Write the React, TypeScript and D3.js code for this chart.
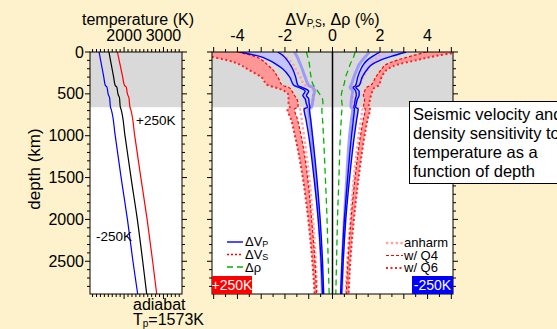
import React from 'react';
import * as d3 from 'd3';

// depth sampling for all right-panel curves (km)
const depthKm = [0, 50, 100, 150, 200, 300, 400, 420, 470, 520, 560, 620, 660, 680, 800, 1000, 1500, 2000, 2500, 2891];

// +250K (hot) sensitivities, %
const vsQ6Hot = [-5.8, -5.2, -4.4, -3.9, -3.6, -3.0, -2.7, -2.45, -2.0, -1.85, -1.85, -1.85, -1.8, -1.9, -1.75, -1.58, -1.25, -1.02, -0.85, -0.75];
const vsQ4Hot = [-4.0, -3.3, -2.95, -2.75, -2.55, -2.3, -2.1, -1.85, -1.7, -1.6, -1.5, -1.45, -1.45, -1.6, -1.48, -1.32, -1.05, -0.88, -0.74, -0.67];
const vsAnHot = [-2.3, -2.0, -1.8, -1.65, -1.55, -1.35, -1.15, -0.9, -0.82, -0.78, -0.8, -0.85, -0.9, -1.35, -1.3, -1.2, -0.98, -0.82, -0.7, -0.64];
const vpQ6Hot = [-3.9, -3.1, -2.65, -2.35, -2.1, -1.8, -1.62, -1.45, -1.15, -1.25, -1.15, -1.1, -1.05, -1.2, -1.12, -1.0, -0.78, -0.6, -0.48, -0.42];
const vpQ4Hot = [-2.3, -2.05, -1.9, -1.78, -1.68, -1.55, -1.45, -1.3, -1.0, -1.1, -1.0, -0.98, -0.95, -0.97, -0.92, -0.84, -0.66, -0.52, -0.42, -0.37];
const vpAnHot = [-1.6, -1.5, -1.42, -1.35, -1.28, -1.15, -1.0, -0.85, -0.75, -0.8, -0.82, -0.85, -0.88, -1.0, -0.95, -0.88, -0.72, -0.57, -0.47, -0.43];
const rhoHot = [-1.1, -1.05, -1.0, -0.97, -0.95, -0.9, -0.8, -0.72, -0.62, -0.5, -0.42, -0.4, -0.4, -0.45, -0.42, -0.38, -0.3, -0.23, -0.18, -0.14];

// -250K (cold) sensitivities, %
const vsQ6Cold = [5.4, 4.3, 3.5, 2.75, 2.35, 2.07, 1.95, 1.78, 1.68, 1.62, 1.58, 1.55, 1.5, 1.58, 1.48, 1.35, 1.1, 0.9, 0.75, 0.68];
const vsQ4Cold = [3.95, 3.3, 2.7, 2.25, 2.08, 1.82, 1.6, 1.45, 1.35, 1.3, 1.35, 1.32, 1.3, 1.38, 1.3, 1.18, 0.95, 0.78, 0.65, 0.58];
const vsAnCold = [2.2, 1.95, 1.75, 1.6, 1.5, 1.3, 1.1, 0.88, 0.85, 0.85, 0.85, 0.88, 0.9, 1.25, 1.2, 1.1, 0.9, 0.75, 0.62, 0.56];
const vpQ6Cold = [3.1, 2.5, 2.0, 1.65, 1.48, 1.25, 1.12, 0.98, 1.12, 1.12, 1.05, 1.0, 0.97, 1.08, 1.02, 0.92, 0.72, 0.56, 0.45, 0.38];
const vpQ4Cold = [2.0, 1.7, 1.45, 1.3, 1.2, 1.06, 0.97, 0.87, 0.98, 1.0, 0.96, 0.93, 0.9, 0.92, 0.88, 0.8, 0.64, 0.5, 0.4, 0.34];
const vpAnCold = [1.55, 1.4, 1.25, 1.12, 1.04, 0.9, 0.78, 0.74, 0.85, 0.82, 0.8, 0.78, 0.78, 0.85, 0.8, 0.72, 0.6, 0.5, 0.42, 0.38];
const rhoCold = [0.95, 0.9, 0.82, 0.74, 0.68, 0.55, 0.47, 0.44, 0.4, 0.37, 0.38, 0.4, 0.42, 0.4, 0.37, 0.33, 0.27, 0.21, 0.17, 0.14];

// temperature profiles (left panel)
const tempDepthKm = [0, 100, 200, 300, 400, 420, 500, 520, 540, 660, 680, 1000, 1500, 2000, 2500, 2891];
const adiabatK = [1617, 1655, 1695, 1735, 1775, 1815, 1845, 1858, 1880, 1905, 1920, 2023, 2176, 2336, 2473, 2574];
const hotK = [1830, 1875, 1920, 1965, 2010, 2055, 2085, 2100, 2120, 2150, 2165, 2270, 2425, 2585, 2725, 2828];
const coldK = [1365, 1405, 1445, 1485, 1525, 1565, 1595, 1608, 1630, 1655, 1670, 1775, 1925, 2085, 2225, 2345];

const depthTicks = [0, 500, 1000, 1500, 2000, 2500];
const tempTicks = [2000, 3000];
const pctTicks = [-4, -2, 0, 2, 4];
const noteLines = ['Seismic velocity and', 'density sensitivity to', 'temperature as a', 'function of depth'];

const FONT = '"Liberation Sans", Arial, Helvetica, sans-serif';
const BG = '#fdf2cb';

const y = d3.scaleLinear().domain([0, 2891]).range([52, 294]);
const tx = d3.scaleLinear().domain([1135, 3470]).range([90, 182]);
const vx = d3.scaleLinear().domain([-5.07, 5.07]).range([212, 453]);

const vLine = (vals: number[]) =>
  d3.line<number>().x((d) => vx(d)).y((_, i) => y(depthKm[i])).curve(d3.curveMonotoneY)(vals) || '';
const tLine = (vals: number[]) =>
  d3.line<number>().x((d) => tx(d)).y((_, i) => y(tempDepthKm[i])).curve(d3.curveMonotoneY)(vals) || '';
const band = (a: number[], b: number[]) =>
  d3.area<number>().y((i) => y(depthKm[i])).x0((i) => vx(a[i])).x1((i) => vx(b[i])).curve(d3.curveMonotoneY)(d3.range(depthKm.length)) || '';

const Ticks = ({ x0, x1, y0, y1, vals, major, scale, horiz }: any) => {
  const items: any[] = [];
  vals.forEach((v: number, i: number) => {
    const len = major(v) ? 5 : 3;
    const p = scale(v);
    if (horiz) {
      items.push(<line key={'a' + i} x1={p} x2={p} y1={y0} y2={y0 - len} stroke="#000" />);
      items.push(<line key={'b' + i} x1={p} x2={p} y1={y1} y2={y1 + len} stroke="#000" />);
    } else {
      items.push(<line key={'a' + i} x1={x0} x2={x0 - len} y1={p} y2={p} stroke="#000" />);
      items.push(<line key={'b' + i} x1={x1} x2={x1 + len} y1={p} y2={p} stroke="#000" />);
    }
  });
  return <g strokeWidth={1}>{items}</g>;
};

export default function App() {
  const top = y(0), bot = y(2891), g660 = y(660);
  const depthMinor = d3.range(0, 2900, 100);
  const tempMinor = d3.range(1200, 3470, 100);
  const pctMinor = d3.range(-5, 5.01, 0.5);
  const L = { x0: 90, x1: 182 };
  const R = { x0: 212, x1: 453 };

  return (
    <svg width={557} height={329} style={{ position: 'absolute', left: 0, top: 0 }} fontFamily={FONT}>
      <rect width={557} height={329} fill={BG} />
      <defs>
        <clipPath id="rclip"><rect x={R.x0} y={top} width={R.x1 - R.x0} height={bot - top} /></clipPath>
      </defs>

      {/* left panel: temperature */}
      <rect x={L.x0} y={top} width={L.x1 - L.x0} height={bot - top} fill="#fff" />
      <rect x={L.x0} y={top} width={L.x1 - L.x0} height={g660 - top} fill="#d9d9d9" />
      <path d={tLine(coldK)} fill="none" stroke="#0000ff" strokeWidth={1.2} />
      <path d={tLine(adiabatK)} fill="none" stroke="#000" strokeWidth={1.2} />
      <path d={tLine(hotK)} fill="none" stroke="#ff0000" strokeWidth={1.2} />
      <rect x={L.x0} y={top} width={L.x1 - L.x0} height={bot - top} fill="none" stroke="#000" />
      <Ticks x0={L.x0} x1={L.x1} vals={depthMinor} major={(v: number) => v % 500 === 0} scale={y} />
      <Ticks y0={top} y1={bot} vals={tempMinor} major={(v: number) => v % 1000 === 0} scale={tx} horiz />
      {depthTicks.map((d) => (
        <text key={d} x={84} y={y(d) + 5.5} fontSize={16} textAnchor="end">{d}</text>
      ))}
      {tempTicks.map((t) => (
        <text key={t} x={tx(t)} y={41} fontSize={16} textAnchor="middle">{t}</text>
      ))}
      <text x={138} y={25} fontSize={16} textAnchor="middle">temperature (K)</text>
      <text transform={`translate(40,${(top + bot) / 2 - 4}) rotate(-90)`} fontSize={17} textAnchor="middle">depth (km)</text>
      <text x={136} y={125} fontSize={13.5}>+250K</text>
      <text x={96} y={241} fontSize={13.5}>-250K</text>
      <text x={133} y={310} fontSize={16}>adiabat</text>
      <text x={133} y={325} fontSize={16}>T<tspan fontSize={10} dy={2}>p</tspan><tspan dy={-2}>=1573K</tspan></text>

      {/* right panel: sensitivities */}
      <rect x={R.x0} y={top} width={R.x1 - R.x0} height={bot - top} fill="#fff" />
      <rect x={R.x0} y={top} width={R.x1 - R.x0} height={g660 - top} fill="#d9d9d9" />
      <g clipPath="url(#rclip)" fill="none">
        <path d={band(vsQ6Hot, vsQ4Hot)} fill="#ff9797" stroke="none" />
        <path d={band(vsQ6Cold, vsQ4Cold)} fill="#ff9797" stroke="none" />
        <path d={band(vpQ6Hot, vpQ4Hot)} fill="#c4c4ff" stroke="none" />
        <path d={band(vpQ6Cold, vpQ4Cold)} fill="#c4c4ff" stroke="none" />
        {[vsAnHot, vsAnCold].map((v, i) => (
          <path key={'sa' + i} d={vLine(v)} stroke="#ffa3a3" strokeWidth={2.4} strokeDasharray="2.4,2.4" />
        ))}
        {[vpAnHot, vpAnCold].map((v, i) => (
          <path key={'pa' + i} d={vLine(v)} stroke="#8c8cff" strokeWidth={3} opacity={0.8} />
        ))}
        {[vsQ4Hot, vsQ4Cold].map((v, i) => (
          <path key={'s4' + i} d={vLine(v)} stroke="#ff0000" strokeWidth={1.2} strokeDasharray="3,2" />
        ))}
        {[vsQ6Hot, vsQ6Cold].map((v, i) => (
          <path key={'s6' + i} d={vLine(v)} stroke="#ff2020" strokeWidth={2} strokeDasharray="2,2.5" />
        ))}
        {[vpQ4Hot, vpQ4Cold, vpQ6Hot, vpQ6Cold].map((v, i) => (
          <path key={'p' + i} d={vLine(v)} stroke="#0000ff" strokeWidth={1.4} />
        ))}
        {[rhoHot, rhoCold].map((v, i) => (
          <path key={'r' + i} d={vLine(v)} stroke="#00b400" strokeWidth={1.3} strokeDasharray="6,4" />
        ))}
      </g>
      <line x1={vx(0)} x2={vx(0)} y1={top} y2={bot} stroke="#000" strokeWidth={1.5} />
      <rect x={R.x0} y={top} width={R.x1 - R.x0} height={bot - top} fill="none" stroke="#000" />
      <Ticks x0={R.x0} x1={R.x1} vals={depthMinor} major={(v: number) => v % 500 === 0} scale={y} />
      <Ticks y0={top} y1={bot} vals={pctMinor} major={(v: number) => Number.isInteger(v)} scale={vx} horiz />
      {pctTicks.map((p) => (
        <text key={p} x={vx(p)} y={41} fontSize={16} textAnchor="middle">{p}</text>
      ))}
      <text x={vx(0)} y={25} fontSize={16} textAnchor="middle">
        ΔV<tspan fontSize={10} dy={2}>P,S</tspan><tspan dy={-2}>, Δρ (%)</tspan>
      </text>

      {/* legends */}
      <g fontSize={13}>
        <line x1={227} x2={243} y1={242} y2={242} stroke="#0000ff" strokeWidth={1.4} />
        <text x={245} y={246}>ΔV<tspan fontSize={9} dy={1}>P</tspan></text>
        <line x1={227} x2={243} y1={254.5} y2={254.5} stroke="#ff0000" strokeWidth={1.5} strokeDasharray="2,2" />
        <text x={245} y={258.5}>ΔV<tspan fontSize={9} dy={1}>S</tspan></text>
        <line x1={227} x2={243} y1={267} y2={267} stroke="#00b400" strokeWidth={1.3} strokeDasharray="6,4" />
        <text x={245} y={271.5}>Δρ</text>

        <line x1={386} x2={403} y1={243} y2={243} stroke="#ffa3a3" strokeWidth={2.4} strokeDasharray="2.4,2.4" />
        <text x={404} y={247}>anharm</text>
        <line x1={386} x2={403} y1={255.5} y2={255.5} stroke="#ff0000" strokeWidth={1.2} strokeDasharray="3,2" />
        <text x={404} y={259.5}>w/ Q4</text>
        <line x1={386} x2={403} y1={268} y2={268} stroke="#ff2020" strokeWidth={2} strokeDasharray="2,2.5" />
        <text x={404} y={272}>w/ Q6</text>
      </g>

      <rect x={212} y={276} width={40} height={18} fill="#ff0000" />
      <text x={232} y={290} fontSize={14} fill="#fff" textAnchor="middle">+250K</text>
      <rect x={412} y={276} width={41} height={18} fill="#0000ff" />
      <text x={432.5} y={290} fontSize={14} fill="#fff" textAnchor="middle">-250K</text>

      {/* note box */}
      <rect x={409.5} y={101.5} width={160} height={82} fill="#fff" stroke="#000" />
      {noteLines.map((s, i) => (
        <text key={i} x={413} y={120 + i * 19} fontSize={16.5}>{s}</text>
      ))}
    </svg>
  );
}
